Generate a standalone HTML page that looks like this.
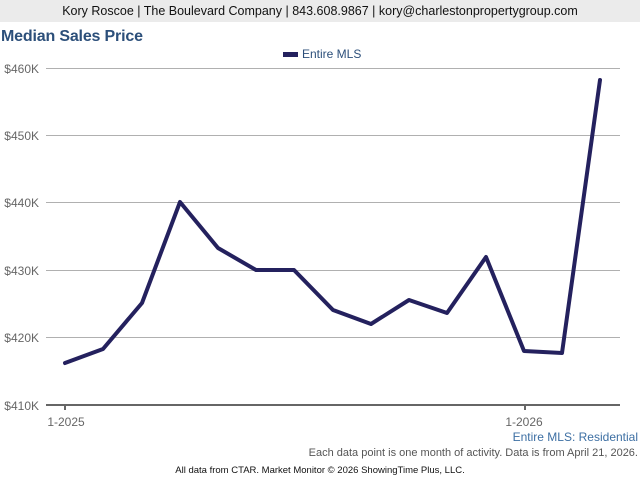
<!DOCTYPE html>
<html><head><meta charset="utf-8"><style>
body{margin:0;width:640px;height:480px;background:#fff;font-family:"Liberation Sans",Arial,sans-serif;overflow:hidden;position:relative}
.hdr{position:absolute;left:0;top:0;width:640px;height:22px;background:#ebebeb;font-size:12.5px;color:#111;text-align:center;line-height:22px}
</style></head><body>
<div class="hdr">Kory Roscoe | The Boulevard Company | 843.608.9867 | kory@charlestonpropertygroup.com</div>
<svg width="640" height="480" style="position:absolute;left:0;top:0" font-family="Liberation Sans, Arial, sans-serif">
<text x="1" y="41" font-size="16" font-weight="bold" fill="#2c4f7a" textLength="142">Median Sales Price</text>
<rect x="283" y="52" width="15" height="5" fill="#24215e"/>
<text x="302" y="58" font-size="12" fill="#2c4f7a">Entire MLS</text>
<g stroke="#b0b0b0" stroke-width="1">
<line x1="46" y1="68.5" x2="620" y2="68.5"/>
<line x1="46" y1="135.5" x2="620" y2="135.5"/>
<line x1="46" y1="202.5" x2="620" y2="202.5"/>
<line x1="46" y1="270.5" x2="620" y2="270.5"/>
<line x1="46" y1="337.5" x2="620" y2="337.5"/>
</g>
<line x1="46" y1="405" x2="620" y2="405" stroke="#666" stroke-width="2"/>
<line x1="65" y1="405" x2="65" y2="410" stroke="#666" stroke-width="2"/>
<line x1="525" y1="405" x2="525" y2="410" stroke="#666" stroke-width="2"/>
<g font-size="12" fill="#666" text-anchor="end">
<text x="39" y="73">$460K</text>
<text x="39" y="140">$450K</text>
<text x="39" y="207">$440K</text>
<text x="39" y="275">$430K</text>
<text x="39" y="342">$420K</text>
<text x="39" y="410">$410K</text>
</g>
<g font-size="12" fill="#666" text-anchor="middle">
<text x="66" y="426">1-2025</text>
<text x="524" y="426">1-2026</text>
</g>
<polyline fill="none" stroke="#24215e" stroke-width="4" stroke-linejoin="round" stroke-linecap="round"
points="65,363 103,349 142,303 180,202 218,248 256,270 294,270 333,310 371,324 409,300 447,313 486,257 524,351 562,353 600,80"/>
<text x="638" y="441" font-size="12" fill="#3d6fa3" text-anchor="end">Entire MLS: Residential</text>
<text x="638" y="456" font-size="11" fill="#555" text-anchor="end">Each data point is one month of activity. Data is from April 21, 2026.</text>
<text x="320" y="473" font-size="9.5" fill="#111" text-anchor="middle">All data from CTAR. Market Monitor © 2026 ShowingTime Plus, LLC.</text>
</svg>
</body></html>
